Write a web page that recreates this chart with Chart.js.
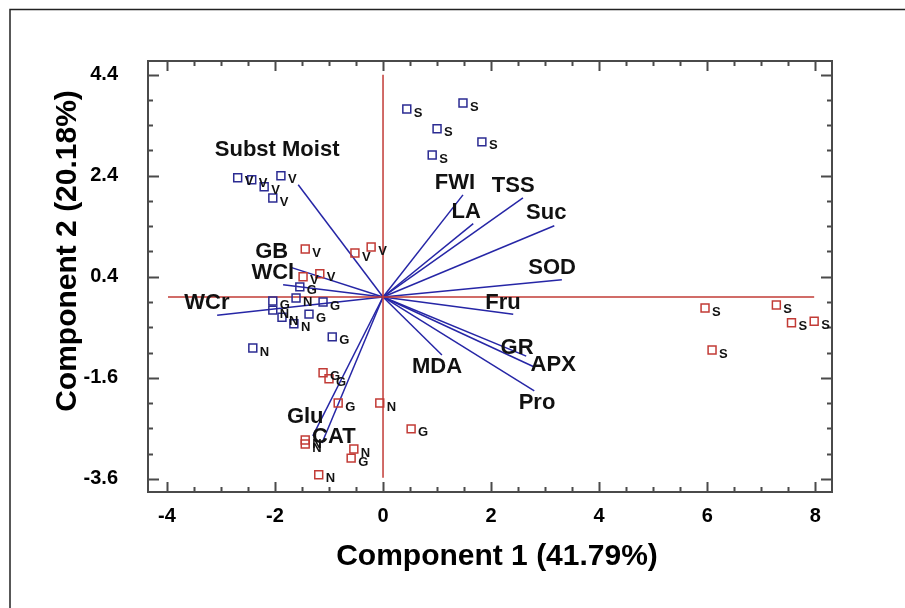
<!DOCTYPE html>
<html>
<head>
<meta charset="utf-8">
<script src="https://cdn.jsdelivr.net/npm/chart.js@4.4.1/dist/chart.umd.min.js"></script>
<style>
	body { margin: 0; background: #fff; }
	canvas { display: block; }
</style>
</head>
<body>
<canvas id="pca" width="905" height="608"></canvas>
<script>
// PCA scores, blue group
const blueX = [-2.69, -2.43, -2.20, -1.89, -2.04, 0.44, 1.48, 1.00, 1.83, 0.91, -1.54, -2.04, -1.61, -1.11, -2.04, -1.87, -1.65, -1.37, -0.94, -2.41]
const blueY = [2.36, 2.32, 2.18, 2.40, 1.96, 3.72, 3.84, 3.33, 3.07, 2.81, 0.20, -0.08, -0.02, -0.10, -0.26, -0.40, -0.53, -0.34, -0.79, -1.01]
const blueTag = ['V', 'V', 'V', 'V', 'V', 'S', 'S', 'S', 'S', 'S', 'G', 'G', 'N', 'G', 'N', 'N', 'N', 'G', 'G', 'N']

// PCA scores, red group
const redX = [-1.44, -0.52, -0.22, -1.48, -1.17, -1.11, -1.00, -0.83, -0.06, 0.52, -1.44, -1.44, -0.54, -0.59, -1.19, 5.96, 7.28, 7.56, 7.98, 6.09]
const redY = [0.95, 0.87, 0.99, 0.40, 0.46, -1.50, -1.62, -2.10, -2.10, -2.61, -2.83, -2.91, -3.01, -3.19, -3.52, -0.22, -0.16, -0.51, -0.48, -1.05]
const redTag = ['V', 'V', 'V', 'V', 'V', 'G', 'G', 'G', 'N', 'G', 'N', 'N', 'N', 'G', 'N', 'S', 'S', 'S', 'S', 'S']

// loadings (vector ends) and where their names sit
const vectorNames = ['Subst Moist', 'FWI', 'LA', 'TSS', 'Suc', 'SOD', 'Fru', 'GR', 'APX', 'Pro', 'MDA', 'Glu', 'CAT', 'GB', 'WCl', 'WCr']
const vectorX = [-1.57, 1.48, 1.67, 2.59, 3.17, 3.31, 2.41, 2.65, 2.81, 2.80, 1.09, -1.30, -1.13, -1.72, -1.85, -3.07]
const vectorY = [2.22, 2.02, 1.45, 1.96, 1.41, 0.34, -0.34, -1.17, -1.39, -1.86, -1.15, -2.75, -2.89, 0.59, 0.24, -0.36]
const nameX = [-1.96, 1.33, 1.54, 2.41, 3.02, 3.13, 2.22, 2.48, 3.15, 2.85, 1.00, -1.44, -0.91, -2.06, -2.04, -3.26]
const nameY = [2.91, 2.26, 1.68, 2.20, 1.66, 0.57, -0.12, -1.01, -1.35, -2.10, -1.39, -2.38, -2.77, 0.89, 0.48, -0.12]

// red reference axes
const axisLineX = [-3.98, 7.98]
const axisLineY = [-3.58, 4.4]

// ticks: labelled every 2, minor every 0.5
const xTickLabels = ['-4', '-2', '0', '2', '4', '6', '8']
const yTickLabels = ['-3.6', '-1.6', '0.4', '2.4', '4.4']
const minorStep = 0.5

const FONT = '"Liberation Sans", Arial, sans-serif'
const BLUE = '#2b2b92'
const RED = '#c23b36'

function stepTicks(labels) {
	const first = parseFloat(labels[0])
	const last = parseFloat(labels[labels.length - 1])
	const out = []
	for (let k = 0; first + k * minorStep <= last + 1e-9; k++) {
		out.push({ value: Math.round((first + k * minorStep) * 10) / 10 })
	}
	return out
}

const points = (xs, ys) => xs.map((v, i) => ({ x: v, y: ys[i] }))

const datasets = [
	{
		data: points(blueX, blueY), tags: blueTag,
		pointStyle: 'rect', pointRadius: 5.6, borderColor: BLUE, borderWidth: 1.5,
		backgroundColor: 'rgba(255,255,255,0)', showLine: false
	},
	{
		data: points(redX, redY), tags: redTag,
		pointStyle: 'rect', pointRadius: 5.6, borderColor: RED, borderWidth: 1.5,
		backgroundColor: 'rgba(255,255,255,0)', showLine: false
	},
	{
		data: [{ x: axisLineX[0], y: 0 }, { x: axisLineX[1], y: 0 }],
		showLine: true, borderColor: RED, borderWidth: 1.5, pointRadius: 0
	},
	{
		data: [{ x: 0, y: axisLineY[0] }, { x: 0, y: axisLineY[1] }],
		showLine: true, borderColor: RED, borderWidth: 1.5, pointRadius: 0
	}
]
vectorNames.forEach((n, i) => {
	datasets.push({
		data: [{ x: 0, y: 0 }, { x: vectorX[i], y: vectorY[i] }],
		showLine: true, borderColor: '#2626a6', borderWidth: 1.5, pointRadius: 0
	})
})

const decor = {
	id: 'decor',
	afterDraw(chart) {
		const { ctx, chartArea: a, scales: { x, y } } = chart
		ctx.save()

		// frame with inward ticks on all sides
		ctx.strokeStyle = '#4a4a4a'
		ctx.lineWidth = 2
		ctx.strokeRect(a.left, a.top, a.right - a.left, a.bottom - a.top)
		ctx.beginPath()
		x.ticks.forEach((t, i) => {
			const px = Math.round(x.getPixelForValue(t.value)) + 0.5
			const len = i % 4 === 0 ? 10 : 5
			ctx.moveTo(px, a.bottom); ctx.lineTo(px, a.bottom - len)
			ctx.moveTo(px, a.top); ctx.lineTo(px, a.top + len)
		})
		y.ticks.forEach((t, i) => {
			const py = Math.round(y.getPixelForValue(t.value)) + 0.5
			const len = i % 4 === 0 ? 11 : 5
			ctx.moveTo(a.left, py); ctx.lineTo(a.left + len, py)
			ctx.moveTo(a.right, py); ctx.lineTo(a.right - len, py)
		})
		ctx.stroke()

		// point tags
		ctx.fillStyle = '#111'
		ctx.font = 'bold 13px ' + FONT
		ctx.textAlign = 'left'
		ctx.textBaseline = 'middle'
		;[0, 1].forEach(d => {
			const tags = chart.data.datasets[d].tags
			chart.getDatasetMeta(d).data.forEach((el, j) => {
				ctx.fillText(tags[j], el.x + 7, el.y + 4)
			})
		})

		// vector names
		ctx.font = 'bold 22px ' + FONT
		ctx.textAlign = 'center'
		vectorNames.forEach((n, i) => {
			ctx.fillText(n, x.getPixelForValue(nameX[i]), y.getPixelForValue(nameY[i]))
		})

		// axis titles
		ctx.font = 'bold 30px ' + FONT
		ctx.fillStyle = '#000'
		ctx.fillText('Component 1 (41.79%)', 497, 557)
		ctx.translate(68, 251)
		ctx.rotate(-Math.PI / 2)
		ctx.fillText('Component 2 (20.18%)', 0, 0)
		ctx.restore()

		// outer picture border (top and left only)
		ctx.save()
		ctx.strokeStyle = '#222'
		ctx.lineWidth = 1.5
		ctx.beginPath()
		ctx.moveTo(10, 608); ctx.lineTo(10, 9.5); ctx.lineTo(905, 9.5)
		ctx.stroke()
		ctx.restore()
	}
}

new Chart(document.getElementById('pca'), {
	type: 'scatter',
	data: { datasets },
	options: {
		responsive: false,
		animation: false,
		devicePixelRatio: 1,
		layout: { padding: { top: 61, right: 73, left: 0, bottom: 0 } },
		plugins: { legend: { display: false }, tooltip: { enabled: false } },
		scales: {
			x: {
				type: 'linear', min: -4.35, max: 8.31,
				afterFit(s) { s.height = 116 },
				afterBuildTicks(s) { s.ticks = stepTicks(xTickLabels) },
				ticks: {
					autoSkip: false, maxRotation: 0, padding: 4, color: '#000',
					font: { family: FONT, size: 20, weight: 'bold' },
					callback: (v, i) => (i % 4 === 0 ? xTickLabels[i / 4] : '')
				},
				grid: { display: false },
				border: { display: false }
			},
			y: {
				type: 'linear', min: -3.86, max: 4.67,
				afterFit(s) { s.width = 148 },
				afterBuildTicks(s) { s.ticks = stepTicks(yTickLabels) },
				ticks: {
					autoSkip: false, padding: 22, color: '#000',
					font: { family: FONT, size: 20, weight: 'bold' },
					callback: (v, i) => (i % 4 === 0 ? yTickLabels[i / 4] : '')
				},
				grid: { display: false },
				border: { display: false }
			}
		}
	},
	plugins: [decor]
})
</script>
</body>
</html>
